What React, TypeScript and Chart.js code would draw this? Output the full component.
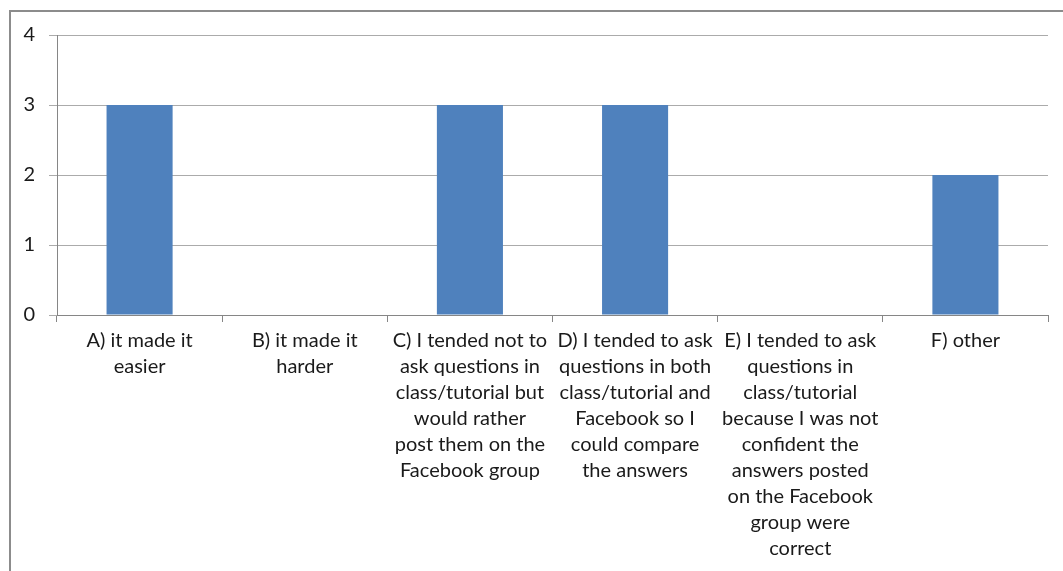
import React, { useEffect, useRef } from "react";
import { Chart, registerables } from "chart.js";

Chart.register(...registerables);

const categories: string[][] = [
  ["A) it made it", "easier"],
  ["B) it made it", "harder"],
  ["C) I tended not to", "ask questions in", "class/tutorial but", "would rather", "post them on the", "Facebook group"],
  ["D) I tended to ask", "questions in both", "class/tutorial and", "Facebook so I", "could compare", "the answers"],
  ["E) I tended to ask", "questions in", "class/tutorial", "because I was not", "confident the", "answers posted", "on the Facebook", "group were", "correct"],
  ["F) other"],
];
const counts: number[] = [3, 0, 3, 3, 0, 2];
const yTicks: number[] = [0, 1, 2, 3, 4];

export default function App() {
  const ref = useRef<HTMLCanvasElement | null>(null);
  useEffect(() => {
    if (!ref.current) return;
    const font = { family: "Lato, 'Open Sans', sans-serif", size: 20 };
    const chart = new Chart(ref.current, {
      type: "bar",
      data: {
        labels: categories,
        datasets: [
          {
            data: counts,
            backgroundColor: "#4F81BD",
            borderWidth: 0,
            barPercentage: 0.4,
            categoryPercentage: 1,
          },
        ],
      },
      options: {
        animation: false,
        responsive: false,
        maintainAspectRatio: false,
        layout: { padding: { left: 0, top: 35, right: 15, bottom: 0 } },
        plugins: { legend: { display: false }, tooltip: { enabled: false } },
        scales: {
          x: {
            offset: true,
            grid: {
              offset: true,
              drawOnChartArea: false,
              drawTicks: true,
              tickLength: 7,
              color: "#868686",
            },
            border: { display: true, color: "#868686", width: 1 },
            ticks: {
              autoSkip: false,
              maxRotation: 0,
              minRotation: 0,
              padding: 6,
              color: "#1a1a1a",
              font: { ...font, lineHeight: 26 / 20 },
            },
            afterFit: (s: any) => {
              s.height = 256;
            },
          },
          y: {
            min: 0,
            max: 4,
            afterBuildTicks: (s: any) => {
              s.ticks = yTicks.map((v) => ({ value: v }));
            },
            grid: {
              color: "#ababab",
              drawTicks: true,
              tickLength: 8,
            },
            border: { display: true, color: "#868686", width: 1 },
            ticks: {
              padding: 14,
              color: "#1a1a1a",
              font,
            },
            afterFit: (s: any) => {
              s.width = 57;
            },
          },
        },
      },
    });
    return () => chart.destroy();
  }, []);
  return (
    <div>
      <div
        style={{
          position: "fixed",
          left: 9,
          top: 10,
          width: 1100,
          height: 620,
          border: "2px solid #8c8c8c",
          boxSizing: "border-box",
        }}
      />
      <canvas
        ref={ref}
        width={1063}
        height={571}
        style={{ position: "fixed", left: 0, top: 0, width: 1063, height: 571 }}
      />
    </div>
  );
}
